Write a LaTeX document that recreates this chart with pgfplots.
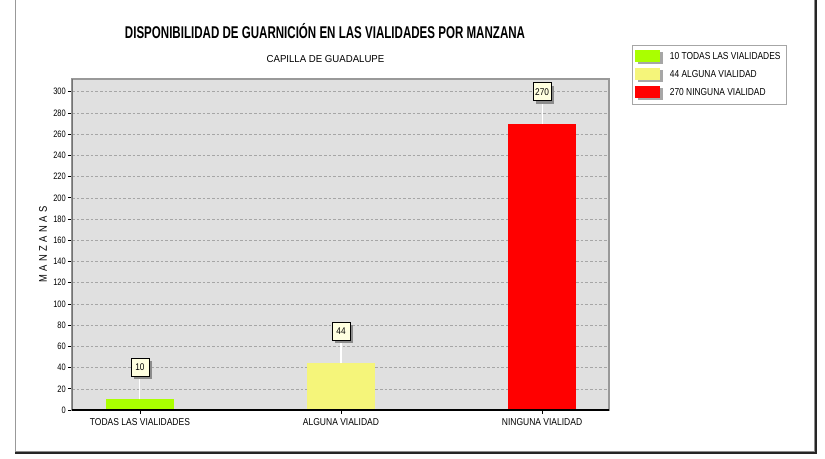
\documentclass[border=0pt]{standalone}
\usepackage{pgfplots}
\pgfplotsset{compat=1.18}
\usepackage{fontspec}
\setmainfont{Liberation Sans}
\newfontfamily\condf[FakeStretch=0.85]{Liberation Sans}
\newfontfamily\tickf[FakeStretch=0.8]{Liberation Sans}
\newfontfamily\titlef[FakeStretch=0.68]{Liberation Sans}
\newfontfamily\subf[FakeStretch=0.95]{Liberation Sans}
\newfontfamily\legf[FakeStretch=0.83]{Liberation Sans}
\usetikzlibrary{shadows}
\definecolor{barg}{HTML}{AAFF00}
\definecolor{bary}{HTML}{F5F57A}
\definecolor{barr}{HTML}{FF0000}
\definecolor{plotbg}{HTML}{E0E0E0}
\definecolor{boxy}{HTML}{FFFFE0}
\pgfplotsset{
  legpatch/.style={legend image code/.code={
      \fill[black!35] (2.2pt,-5.5pt) rectangle (21.2pt,3.2pt);
      \fill[#1] (0pt,-4pt) rectangle (19pt,4.5pt);}},
  vlab/.style={nodes near coords,
    every node near coord/.append style={anchor=center, yshift=23.9pt,
      font=\condf\fontsize{7.3}{8}\selectfont, text=black,
      draw=black, line width=0.6pt, fill=boxy,
      minimum height=13.5pt, minimum width=13.5pt, inner sep=1.5pt,
      drop shadow={shadow xshift=2.2pt, shadow yshift=-2.2pt, fill=black!45, opacity=1}}},
  wline/.style={error bars/.cd, y dir=plus, y fixed=21,
      error bar style={white, line width=0.8pt}, error mark=none},
}
\newcommand{\lsp}{\hspace{2.6pt}}
\begin{document}
\begin{tikzpicture}
\begin{scope}[x=0.75pt,y=-0.75pt]
\useasboundingbox (0,0) rectangle (825,458);
\fill[white] (0,0) rectangle (825,458);
\draw[black!40, line width=0.75pt] (15,0) -- (15,452);
\draw[black!45, line width=0.75pt] (15,451) -- (814,451) -- (814,0);
\draw[black!85, line width=1.1pt] (15,453) -- (816,453) -- (816,0);
\node[font=\titlef\bfseries\fontsize{12.75}{14}\selectfont] at (325,31) {DISPONIBILIDAD DE GUARNICIÓN EN LAS VIALIDADES POR MANZANA};
\node[font=\subf\fontsize{7.6}{9}\selectfont] at (325.5,59) {CAPILLA DE GUADALUPE};
\end{scope}
\begin{axis}[at={(54pt,-307.5pt)}, anchor=south west, scale only axis,
  width=402.75pt, height=248.25pt,
  xmin=-0.338, xmax=2.333, ymin=0, ymax=312,
  axis background/.style={fill=plotbg},
  axis line style={draw=black!40, line width=0.8pt},
  xtick={0,1,2},
  xticklabels={TODAS LAS VIALIDADES, ALGUNA VIALIDAD, NINGUNA VIALIDAD},
  ytick={0,20,...,300},
  tick align=outside, xtick pos=bottom, ytick pos=left,
  major tick length=3pt, tick style={black, line width=0.6pt},
  ymajorgrids, grid style={black!35, dash pattern=on 2pt off 1.5pt, line width=0.4pt},
  /pgf/number format/assume math mode=true,
  yticklabel style={font=\tickf\fontsize{7}{8}\selectfont, inner xsep=1.5pt},
  xticklabel style={font=\condf\fontsize{7.5}{9}\selectfont},
  ylabel={M\lsp A\lsp N\lsp Z\lsp A\lsp N\lsp A\lsp S},
  every axis y label/.style={at={(axis description cs:-0.054,0.5)}, rotate=90, anchor=center,
     font=\condf\fontsize{8.3}{9}\selectfont},
  legend style={at={(axis description cs:1.0428,1.1027)}, anchor=north west,
     draw=black!35, fill=white, font=\legf\fontsize{7.6}{8}\selectfont,
     row sep=2.6pt, inner xsep=2pt, inner ysep=3pt,
     /tikz/every odd column/.append style={column sep=3pt}},
  legend cell align=left,
]
\addplot[ybar, bar width=0.34, bar shift=0pt, fill=barg, draw=none, legpatch=barg, vlab, wline] coordinates {(0,10)};
\addlegendentry{10 TODAS LAS VIALIDADES}
\addplot[ybar, bar width=0.34, bar shift=0pt, fill=bary, draw=none, legpatch=bary, vlab, wline] coordinates {(1,44)};
\addlegendentry{44 ALGUNA VIALIDAD}
\addplot[ybar, bar width=0.34, bar shift=0pt, fill=barr, draw=none, legpatch=barr, vlab, wline] coordinates {(2,270)};
\addlegendentry{270 NINGUNA VIALIDAD}
\draw[black!55, line width=0.9pt] (rel axis cs:0,0) -- (rel axis cs:0,1);
\draw[black, line width=1.2pt] (rel axis cs:0,0) -- (rel axis cs:1,0);
\end{axis}
\end{tikzpicture}
\end{document}
